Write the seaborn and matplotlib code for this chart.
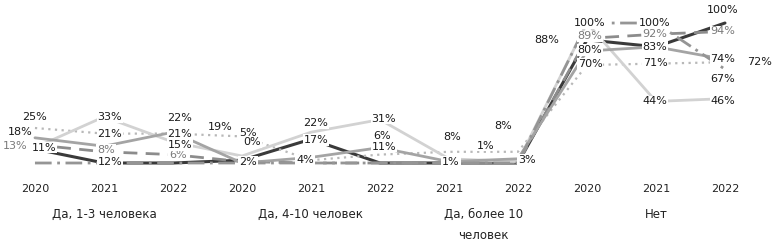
import numpy as np
import pandas as pd
import matplotlib
matplotlib.use('Agg')
import matplotlib.pyplot as plt
import matplotlib.transforms as mtransforms
import seaborn as sns

sns.set_style('white')
plt.rcParams['font.family'] = ['DejaVu Sans']

# --- data ---
years = ['2020', '2021', '2022', '2020', '2021', '2022', '2021', '2022', '2020', '2021', '2022']
groups = ['Да, 1-3 человека', 'Да, 4-10 человек', 'Да, более 10\nчеловек', 'Нет']
group_sizes = [3, 3, 2, 3]

s_a = [10, 0, 0, 2, 17, 0, 0, 0, 88, 83, 100]
s_b = [13, 8, 6, 1, 0, 0, 0, 0, 89, 92, 94]
s_c = [25, 21, 21, 19, 2, 6, 8, 8, 70, 71, 72]
s_d = [11, 33, 15, 5, 22, 31, 3, 1, 100, 44, 46]
s_e = [18, 12, 22, 0, 4, 11, 1, 3, 80, 83, 74]
s_f = [0, 0, 0, 0, 0, 0, 0, 0, 100, 100, 67]

series = {'A': s_a, 'B': s_b, 'C': s_c, 'D': s_d, 'E': s_e, 'F': s_f}

# --- styling ---
styles = {
    'A': dict(color='#3a3a3a', ls='-', lw=2.2),
    'B': dict(color='#8c8c8c', ls=(0, (5, 3)), lw=2.0),
    'C': dict(color='#b8b8b8', ls=(0, (1, 2)), lw=1.6),
    'D': dict(color='#d2d2d2', ls='-', lw=2.0),
    'E': dict(color='#a4a4a4', ls='-', lw=2.0),
    'F': dict(color='#959595', ls=(0, (6, 2, 1, 2)), lw=2.0),
}
label_color = {'A': '#1a1a1a', 'B': '#7a7a7a', 'C': '#1a1a1a',
               'D': '#1a1a1a', 'E': '#1a1a1a', 'F': '#1a1a1a'}

# which points carry a label, with offset in pixels (dx, dy)
label_pos = {
    'A': [(3, 6, -2), (4, 5, -1), (8, -40, 0), (9, -1, 0), (10, -2, 13)],
    'B': [(0, -20, -1), (1, 2, 2), (2, 5, 0), (8, 3, 2), (9, -1, 0), (10, -2, 0)],
    'C': [(0, 0, 11), (1, 6, 0), (2, 7, 0), (3, -22, 9), (5, 2, 19), (6, 3, 15),
          (7, -15, 26), (8, 3, 1), (9, -1, 1), (10, 35, 0)],
    'D': [(0, 9, 0), (1, 6, 0), (2, 7, -3), (3, 6, 23), (4, 5, 9), (5, 4, 1),
          (7, -32, 16), (8, 3, 0), (9, -1, 0), (10, -2, -2)],
    'E': [(0, -15, 6), (1, 6, -16), (2, 7, 14), (3, 10, 21), (4, -6, -3),
          (5, 4, 1), (6, 2, 0), (7, 9, -1), (8, 3, 1), (10, -2, 0)],
    'F': [(9, -1, 0), (10, -2, -10)],
}

rows = []
for name, vals in series.items():
    for i, v in enumerate(vals):
        rows.append({'series': name, 'pos': i, 'value': v})
df = pd.DataFrame(rows)

fig = plt.figure(figsize=(7.76, 2.44), dpi=100)
ax = fig.add_axes([0.0006, 0.3205, 0.9781, 0.6425])

for name in series:
    st = styles[name]
    sns.lineplot(data=df[df['series'] == name], x='pos', y='value', ax=ax,
                 color=st['color'], linewidth=st['lw'], linestyle=st['ls'],
                 legend=False, zorder=2)

for name, items in label_pos.items():
    vals = series[name]
    for i, dx, dy in items:
        ax.annotate(f'{vals[i]}%', (i, vals[i]), xytext=(dx, dy),
                    textcoords='offset pixels', ha='center', va='center',
                    fontsize=8, color=label_color[name], zorder=5,
                    bbox=dict(boxstyle='square,pad=0.08', fc='white', ec='none'),
                    annotation_clip=False)

ax.set_xlim(-0.5, 10.5)
ax.set_ylim(-2, 110)
ax.set_yticks([])
ax.set_xticks(range(len(years)))
ax.set_xticklabels(years, fontsize=8, color='#222222')
ax.tick_params(axis='x', length=0, pad=13)
ax.set_xlabel('')
ax.set_ylabel('')
for sp in ax.spines.values():
    sp.set_visible(False)

trans = mtransforms.blended_transform_factory(ax.transData, ax.transAxes)
start = 0
for g, n in zip(groups, group_sizes):
    center = start + (n - 1) / 2
    ax.text(center, -0.27, g, transform=trans, ha='center', va='top',
            fontsize=8.5, color='#222222', linespacing=1.75)
    start += n

fig.savefig('out.png', dpi=100)
